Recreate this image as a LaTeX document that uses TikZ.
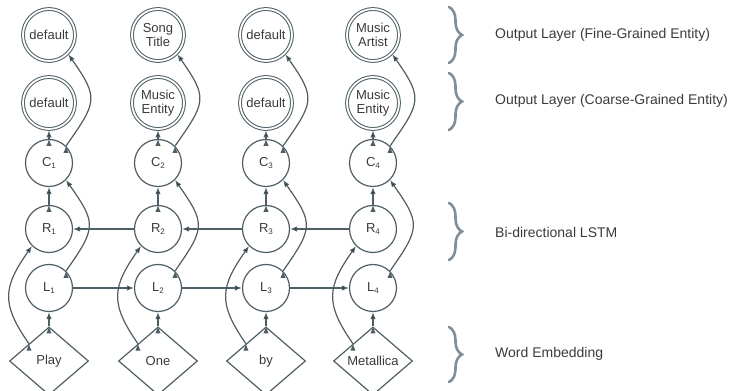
\documentclass[tikz,border=0pt]{standalone}
\usepackage{fontspec}
\setmainfont{Liberation Sans}
\usetikzlibrary{shapes.geometric,arrows.meta,decorations.pathreplacing}
\definecolor{edgegray}{RGB}{78,94,101}
\definecolor{bracegray}{RGB}{128,142,152}
\definecolor{textgray}{RGB}{58,58,58}
\newcommand{\lsub}[1]{\raisebox{-0.25ex}{\fontsize{8}{8}\selectfont #1}}

\begin{document}
\begin{tikzpicture}[x=1pt, y=1pt, >={Latex[length=7pt,width=5.5pt]}]
	\tikzstyle{cell}   = [circle, minimum size=47pt, inner sep=0pt, draw=edgegray, line width=1.2pt, text=textgray, font=\fontsize{13}{14.5}\selectfont]
	\tikzstyle{output} = [cell, minimum size=52pt, line width=1pt, double, double distance=1.8pt, outer sep=1.4pt, align=center]
	\tikzstyle{word}   = [diamond, minimum width=79pt, minimum height=68pt, inner sep=0pt, draw=edgegray, line width=1.2pt, text=textgray, font=\fontsize{13}{14.5}\selectfont]
	\tikzstyle{link}   = [->, draw=edgegray, line width=1.2pt]
	\tikzstyle{layerbrace} = [decorate, decoration={brace, amplitude=13pt}, draw=bracegray, line width=2.6pt, line cap=round]
	\tikzstyle{layer}  = [anchor=west, inner sep=0pt, text=textgray, font=\fontsize{14}{16}\selectfont]

	\useasboundingbox (0,0) rectangle (737,391);

	% one column per word
	\foreach \i/\x/\w/\fine/\coarse in {1/49/Play/default/default, 2/158/One/{Song\\Title}/{Music\\Entity}, 3/266/by/default/default, 4/373/Metallica/{Music\\Artist}/{Music\\Entity}} {
		\node[word]   (w\i) at (\x, 30)  {\w};
		\node[cell]   (l\i) at (\x, 103) {L\lsub{\i}};
		\node[cell]   (r\i) at (\x, 162) {R\lsub{\i}};
		\node[cell]   (c\i) at (\x, 228) {C\lsub{\i}};
		\node[output] (m\i) at (\x, 288) {\coarse};
		\node[output] (f\i) at (\x, 356) {\fine};

		\path[link] (w\i.north) edge (l\i.south);
		\path[link] (r\i.north) edge (c\i.south);
		\path[link] (c\i.north) edge (m\i.south);
		\path[link] (w\i.north west) edge[out=125, in=235, looseness=1.3] (r\i.south west);
		\path[link] (l\i.north east) edge[out=55, in=-55, looseness=1.5] (c\i.south east);
		\path[link] (c\i.north east) edge[out=55, in=-55, looseness=1.5] (f\i.south east);
	}

	\foreach \a/\b in {1/2, 2/3, 3/4} {
		\path[link] (l\a) edge (l\b);
		\path[link] (r\b) edge (r\a);
	}

	% layer names
	\draw[layerbrace] (449,384) -- (449,328);
	\draw[layerbrace] (449,318) -- (449,261);
	\draw[layerbrace] (449,188) -- (449,131);
	\draw[layerbrace] (449,64) -- (449,9);
	\node[layer] (fine)   at (495,356) {Output Layer (Fine-Grained Entity)};
	\node[layer] (coarse) at (495,290) {Output Layer (Coarse-Grained Entity)};
	\node[layer] (lstm)   at (495,159) {Bi-directional LSTM};
	\node[layer] (embed)  at (495,37)  {Word Embedding};
\end{tikzpicture}
\end{document}
